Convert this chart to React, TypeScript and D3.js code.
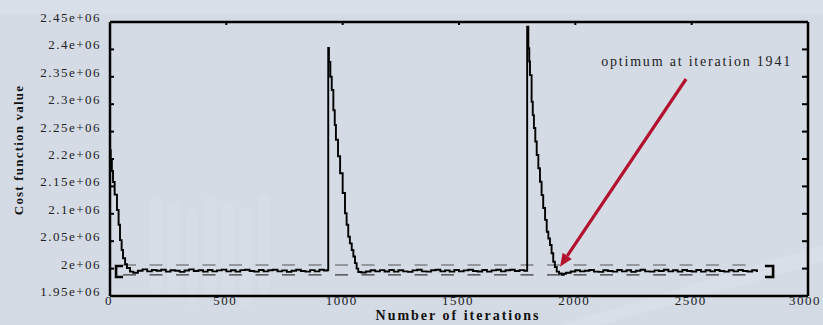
import React from 'react';
import * as d3 from 'd3';

const W = 823;
const H = 325;
const margin = { top: 22, right: 15, bottom: 29, left: 110 };

// cost values are in millions
const PLATEAU_STEP = 20;

// start of the run
const descent1Iter = [0, 3, 8, 13, 20, 30, 37, 43, 50, 56, 65, 73, 86];
const descent1Cost = [2.216, 2.2, 2.178, 2.158, 2.135, 2.107, 2.08, 2.052, 2.034, 2.019, 2.008, 2.001, 1.9945];

const plateau1Start = 100;
const plateau1Cost = [
  1.9925, 1.996, 1.9985, 1.995, 1.9975, 1.996, 1.998, 1.9945, 1.997, 1.996,
  1.994, 1.9965, 1.9985, 1.9955, 1.997, 1.9945, 1.9975, 1.995, 1.9968, 1.9982,
  1.995, 1.997, 1.9945, 1.9972, 1.998, 1.9955, 1.9945, 1.9975, 1.995, 1.997,
  1.998, 1.995, 1.9968, 1.994, 1.996, 1.9978, 1.9955, 1.9945, 1.9972, 1.995,
  1.998, 1.9965,
];

// first restart
const descent2Iter = [935, 938, 941, 947, 953, 960, 966, 971, 980, 989, 1000, 1010, 1017, 1024, 1031, 1039, 1046, 1053, 1060, 1067];
const descent2Cost = [1.9975, 2.4026, 2.377, 2.35, 2.326, 2.289, 2.262, 2.235, 2.205, 2.174, 2.138, 2.101, 2.08, 2.058, 2.046, 2.034, 2.022, 2.01, 2.0, 1.9938];

const plateau2Start = 1080;
const plateau2Cost = [
  1.993, 1.9948, 1.997, 1.995, 1.9972, 1.9948, 1.9975, 1.9945, 1.997, 1.995,
  1.994, 1.9968, 1.9978, 1.995, 1.9945, 1.997, 1.998, 1.995, 1.9968, 1.9945,
  1.9975, 1.995, 1.9968, 1.998, 1.9955, 1.9948, 1.9975, 1.9945, 1.9968, 1.9978,
  1.995, 1.997, 1.998, 1.9955, 1.9972, 1.996,
];

// second restart
const descent3Iter = [1790, 1793, 1798, 1802, 1805, 1812, 1817, 1822, 1828, 1834, 1841, 1848, 1855, 1862, 1870, 1877, 1884, 1891, 1898, 1905, 1912, 1920, 1930, 1941, 1950];
const descent3Cost = [1.996, 2.4414, 2.402, 2.378, 2.353, 2.3046, 2.28, 2.2566, 2.232, 2.2073, 2.183, 2.1586, 2.134, 2.1106, 2.089, 2.0673, 2.055, 2.0431, 2.028, 2.0126, 2.003, 1.9944, 1.991, 1.9888, 1.9905];

const plateau3Start = 1960;
const plateau3Cost = [
  1.9925, 1.9948, 1.997, 1.995, 1.9962, 1.9975, 1.9945, 1.994, 1.997, 1.9955,
  1.9945, 1.9975, 1.995, 1.997, 1.994, 1.996, 1.9978, 1.995, 1.9945, 1.9968,
  1.9955, 1.998, 1.995, 1.997, 1.9945, 1.9975, 1.9955, 1.9948, 1.9975, 1.9945,
  1.997, 1.995, 1.9975, 1.9955, 1.9945, 1.997, 1.995, 1.9975, 1.9955, 1.9948,
  1.997, 1.9955,
];
const lastIter = 2785;

// tolerance band around the plateau
const bandUpper = 2.0065;
const bandLower = 1.9885;
const bandFrom = 56;
const bandTo = 2781;
const bracketLeft = [26, 56];
const bracketRight = [2815, 2850];
const bracketTop = 2.0047;
const bracketBottom = 1.9847;

const xTicks = [0, 500, 1000, 1500, 2000, 2500, 3000];
const yTicks = [1.95, 2.0, 2.05, 2.1, 2.15, 2.2, 2.25, 2.3, 2.35, 2.4, 2.45];
const yTickLabels = ['1.95e+06', '2e+06', '2.05e+06', '2.1e+06', '2.15e+06', '2.2e+06', '2.25e+06', '2.3e+06', '2.35e+06', '2.4e+06', '2.45e+06'];

const optimumIter = 1941;
const arrowTip = { iter: 1934, cost: 2.0035 };
const arrowTail = { iter: 2476, cost: 2.346 };
const annotation = 'optimum at iteration 1941';

const serif = '"Liberation Serif", "Times New Roman", serif';

function buildSeries() {
  const pts: [number, number][] = [];
  descent1Iter.forEach((it, i) => pts.push([it, descent1Cost[i]]));
  plateau1Cost.forEach((c, i) => pts.push([plateau1Start + i * PLATEAU_STEP, c]));
  descent2Iter.forEach((it, i) => pts.push([it, descent2Cost[i]]));
  plateau2Cost.forEach((c, i) => pts.push([plateau2Start + i * PLATEAU_STEP, c]));
  descent3Iter.forEach((it, i) => pts.push([it, descent3Cost[i]]));
  plateau3Cost.forEach((c, i) => pts.push([plateau3Start + i * PLATEAU_STEP, c]));
  pts.push([lastIter, plateau3Cost[plateau3Cost.length - 1]]);
  return pts;
}

export default function App() {
  const x = d3.scaleLinear().domain([0, 3000]).range([margin.left, W - margin.right]);
  const y = d3.scaleLinear().domain([1.95, 2.45]).range([H - margin.bottom, margin.top]);
  const [x0, x1] = x.range();
  const [yb, yt] = y.range();

  const series = buildSeries();
  const line = d3.line<[number, number]>()
    .x(d => x(d[0]))
    .y(d => y(d[1]))
    .curve(d3.curveStepAfter);

  // arrow geometry
  const tx = x(arrowTip.iter), ty = y(arrowTip.cost);
  const sx = x(arrowTail.iter), sy = y(arrowTail.cost);
  const ang = Math.atan2(ty - sy, tx - sx);
  const headLen = 13, headW = 5.5;
  const bx = tx - headLen * Math.cos(ang), by = ty - headLen * Math.sin(ang);
  const head = [
    [tx, ty],
    [bx + headW * Math.sin(ang), by - headW * Math.cos(ang)],
    [bx - headW * Math.sin(ang), by + headW * Math.cos(ang)],
  ].map(p => p.join(',')).join(' ');

  const bracket = (a: number, b: number, open: boolean) => {
    const xa = x(a), xb = x(b);
    const v = open ? xa : xb;
    const h = open ? xb : xa;
    return `M${h},${y(bracketTop)}H${v}V${y(bracketBottom)}H${h}`;
  };

  return (
    <svg width={W} height={H} style={{ position: 'absolute', left: 0, top: 0 }}>
      {/* background */}
      <rect width={W} height={H} fill="#d4dbe5" />
      <rect x={0} y={0} width={W} height={14} fill="#dbe1ea" opacity={0.6} />
      <g fill="#dce2ea" opacity={0.35}>
        {[150, 168, 186, 204, 222, 240, 258].map((px, i) => (
          <rect key={i} x={px} y={195 + (i % 3) * 6} width={12} height={100} rx={6} />
        ))}
      </g>
      <path d="M560,325 L823,245 L823,262 L600,325 Z" fill="#dde3eb" opacity={0.5} />

      {/* tolerance band */}
      <g stroke="#3a3a3a" strokeWidth={1.1} strokeDasharray="13,13.5">
        <line x1={x(bandFrom)} x2={x(bandTo)} y1={y(bandUpper)} y2={y(bandUpper)} stroke="#555" />
        <line x1={x(bandFrom)} x2={x(bandTo)} y1={y(bandLower)} y2={y(bandLower)} />
      </g>
      <g fill="none" stroke="#000" strokeWidth={2.6}>
        <path d={bracket(bracketLeft[0], bracketLeft[1], true)} />
        <path d={bracket(bracketRight[0], bracketRight[1], false)} />
      </g>

      {/* cost curve */}
      <path d={line(series) || ''} fill="none" stroke="#000" strokeWidth={1.9} />

      {/* frame */}
      <g stroke="#000" strokeWidth={2.5} fill="none">
        <line x1={x0} x2={x0} y1={yt} y2={yb} />
        <line x1={x1} x2={x1} y1={yt} y2={yb} />
        <line x1={x0} x2={x1} y1={yt} y2={yt} />
        <line x1={x0} x2={x1} y1={yb} y2={yb} />
      </g>
      <g stroke="#000" strokeWidth={2}>
        {yTicks.slice(1, -1).map(t => (
          <g key={t}>
            <line x1={x0} x2={x0 + 4} y1={y(t)} y2={y(t)} />
            <line x1={x1 - 6} x2={x1} y1={y(t)} y2={y(t)} />
          </g>
        ))}
        {xTicks.slice(1, -1).map(t => (
          <line key={t} x1={x(t)} x2={x(t)} y1={yt} y2={yt + 3} />
        ))}
      </g>

      {/* tick labels */}
      <g fontFamily={serif} fontSize={13} fill="#222" letterSpacing={1.5}>
        {yTicks.map((t, i) => (
          <text key={t} x={x0 - 9} y={y(t)} textAnchor="end">{yTickLabels[i]}</text>
        ))}
        {xTicks.map(t => (
          <text key={t} x={t === 3000 ? x(t) - 3 : x(t) - 1} y={yb + 9} textAnchor="middle">{t}</text>
        ))}
      </g>

      {/* axis titles */}
      <text x={(x0 + x1) / 2 - 1} y={320} textAnchor="middle" fontFamily={serif} fontWeight="bold"
        fontSize={14} letterSpacing={2} fill="#111">Number of iterations</text>
      <text transform={`translate(23,150) rotate(-90)`} textAnchor="middle" fontFamily={serif}
        fontWeight="bold" fontSize={13} letterSpacing={1.2} fill="#111">Cost function value</text>

      {/* annotation */}
      <line x1={sx} y1={sy} x2={bx} y2={by} stroke="#b3122f" strokeWidth={3.2} />
      <polygon points={head} fill="#b3122f" />
      <text x={x(optimumIter) + 135} y={66} textAnchor="middle" fontFamily={serif} fontSize={14}
        letterSpacing={1.8} fill="#222">{annotation}</text>
    </svg>
  );
}
